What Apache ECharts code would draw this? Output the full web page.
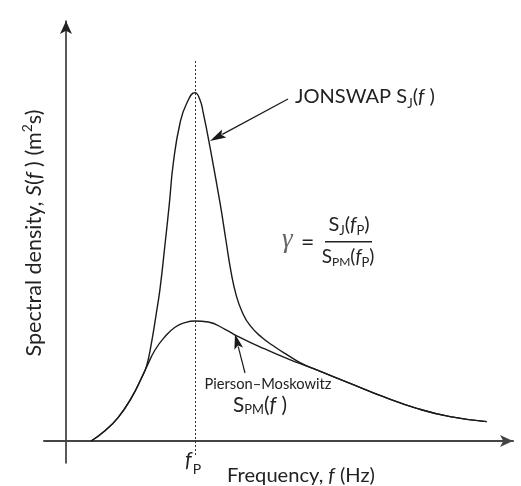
<!DOCTYPE html>
<html><head><meta charset="utf-8">
<script src="https://cdn.jsdelivr.net/npm/echarts@6/dist/echarts.min.js"></script>
<style>html,body{margin:0;padding:0;background:#fff}#c{width:521px;height:486px}</style>
</head><body><div id="c"></div>
<script>
// Frequency in units of f/fp, spectral density normalised by S_PM(fp)
const fp = 1.0;
const pmF = [0.195, 0.302, 0.405, 0.509, 0.587, 0.626, 0.69, 0.767, 0.845, 0.922, 1.0, 1.103, 1.233, 1.336, 1.491, 1.646, 1.801, 1.943, 2.202, 2.46, 2.719, 2.977, 3.261];
const pmS = [0, 0.085, 0.195, 0.36, 0.525, 0.615, 0.752, 0.862, 0.94, 0.978, 0.992, 0.983, 0.923, 0.862, 0.785, 0.711, 0.645, 0.587, 0.477, 0.366, 0.27, 0.201, 0.16];
const jsF = [0.195, 0.302, 0.405, 0.509, 0.587, 0.626, 0.664, 0.698, 0.729, 0.767, 0.801, 0.832, 0.884, 0.936, 1.0, 1.039, 1.064, 1.116, 1.194, 1.24, 1.279, 1.318, 1.364, 1.426, 1.519, 1.62, 1.721, 1.814, 1.943, 2.202, 2.46, 2.719, 2.977, 3.261];
const jsS = [0, 0.085, 0.195, 0.36, 0.525, 0.625, 0.82, 1.041, 1.26, 1.62, 1.96, 2.298, 2.628, 2.791, 2.879, 2.818, 2.711, 2.43, 1.967, 1.657, 1.4, 1.21, 1.07, 0.955, 0.855, 0.777, 0.708, 0.648, 0.587, 0.477, 0.366, 0.27, 0.201, 0.16];
const dashExtent = [-0.116, 3.149];

const FONT = 'Lato, "Open Sans", sans-serif';
const TXT = '#222';
const ctx = document.createElement('canvas').getContext('2d');
function fontStr(p, k){ return (p.it ? 'italic ' : '') + (p.s * k).toFixed(2) + 'px ' + (p.fam || FONT); }
function run(x, base, parts, anchor, color, targetW){
  const widths = k => parts.map(p => { ctx.font = fontStr(p, k); return ctx.measureText(p.t).width + (p.gap || 0) * k; });
  let k = 1;
  if (targetW) { const t0 = widths(1).reduce((a, b) => a + b, 0); k = targetW / t0; }
  const ws = widths(k);
  const total = ws.reduce((a, b) => a + b, 0);
  let cx = anchor === 'center' ? x - total / 2 : x;
  const els = [];
  parts.forEach((p, i) => {
    ctx.font = fontStr(p, k);
    ctx.textBaseline = 'middle';
    const d = ctx.measureText('H').actualBoundingBoxDescent;
    ctx.textBaseline = 'alphabetic';
    els.push({type: 'text', x: cx, y: base + (p.dy || 0) * k - d, silent: true,
      style: {text: p.t, font: fontStr(p, k), fill: p.c || color || TXT, align: 'left', verticalAlign: 'middle'}});
    cx += ws[i];
  });
  return els;
}
function arrow(x1, y1, x2, y2, len, hw, color){
  const dx = x2 - x1, dy = y2 - y1, L = Math.hypot(dx, dy);
  const ux = dx / L, uy = dy / L, bx = x2 - ux * len, by = y2 - uy * len;
  return [
    {type: 'line', silent: true, shape: {x1: x1, y1: y1, x2: bx + ux * 2, y2: by + uy * 2}, style: {stroke: color, lineWidth: 1.2}},
    {type: 'polygon', silent: true, shape: {points: [[x2, y2], [bx - uy * hw, by + ux * hw], [bx + ux * 3, by + uy * 3], [bx + uy * hw, by - ux * hw]]}, style: {fill: color}}
  ];
}

const graphics = [];
// y axis title (rotated)
graphics.push({type: 'group', x: 41, y: 233, rotation: Math.PI / 2, children: run(0, 0, [
  {t: 'Spectral density, ', s: 17}, {t: 'S', s: 17, it: true}, {t: '(', s: 17}, {t: 'f', s: 17, it: true},
  {t: ' ) (m', s: 17}, {t: '2', s: 11, dy: -7}, {t: 's)', s: 17}
], 'center', null, 247)});
// x axis title
graphics.push(...run(301, 482, [{t: 'Frequency, ', s: 18}, {t: 'f', s: 18, it: true}, {t: ' (Hz)', s: 18}], 'center', null, 148));
// fp tick label
graphics.push(...run(185, 467, [{t: 'f', s: 21, it: true, gap: 1}, {t: 'P', s: 14, dy: 7}], 'left'));
// JONSWAP label
graphics.push(...run(295, 103, [{t: 'JONSWAP S', s: 20}, {t: 'J', s: 13, dy: 5}, {t: '(', s: 20}, {t: 'f', s: 20, it: true}, {t: ' )', s: 20}], 'left', null, 140));
// PM label
graphics.push(...run(268, 389, [{t: 'Pierson–Moskowitz', s: 14}], 'center', null, 127));
graphics.push(...run(233, 412, [{t: 'S', s: 21}, {t: 'PM', s: 13, dy: 2}, {t: '(', s: 21}, {t: 'f', s: 21, it: true}, {t: ' )', s: 21}], 'left', null, 54));
// formula
graphics.push(...run(282, 247, [{t: 'γ', s: 27, it: true, fam: '"Liberation Serif", "DejaVu Serif", serif', c: '#666'}], 'left'));
graphics.push(...run(301, 250, [{t: '=', s: 23}], 'left'));
graphics.push(...run(349, 231, [{t: 'S', s: 20}, {t: 'J', s: 13, dy: 4}, {t: '(', s: 20}, {t: 'f', s: 20, it: true}, {t: 'P', s: 13, dy: 4}, {t: ')', s: 20}], 'center'));
graphics.push(...run(348, 263, [{t: 'S', s: 19}, {t: 'PM', s: 12, dy: 3}, {t: '(', s: 19}, {t: 'f', s: 19, it: true}, {t: 'P', s: 13, dy: 4}, {t: ')', s: 19}], 'center'));
graphics.push({type: 'line', silent: true, shape: {x1: 325, y1: 241.7, x2: 372, y2: 241.7}, style: {stroke: TXT, lineWidth: 1.4}});
// annotation arrows
graphics.push(...arrow(288, 99, 210, 141, 16, 4.5, '#1a1a1a'));
graphics.push(...arrow(245, 373, 235, 334, 15, 4.5, '#1a1a1a'));

const chart = echarts.init(document.getElementById('c'), null, {renderer: 'canvas'});
chart.setOption({
  animation: false,
  backgroundColor: '#fff',
  grid: {left: 44, right: 8, top: 21, bottom: 23, containLabel: false, outerBoundsMode: 'none'},
  xAxis: {type: 'value', min: -0.1705, max: 3.465,
    axisLine: {onZero: true, symbol: ['none', 'arrow'], symbolSize: [9, 13], lineStyle: {color: '#444', width: 2}},
    axisTick: {show: false}, axisLabel: {show: false}, splitLine: {show: false}},
  yAxis: {type: 'value', min: -0.1818, max: 3.471,
    axisLine: {onZero: true, symbol: ['none', 'arrow'], symbolSize: [9, 13], lineStyle: {color: '#222', width: 1.5}},
    axisTick: {show: false}, axisLabel: {show: false}, splitLine: {show: false}},
  series: [
    {type: 'line', name: 'Pierson–Moskowitz', data: pmF.map((f, i) => [f, pmS[i]]), smooth: 0.5, symbol: 'none',
      lineStyle: {color: '#1a1a1a', width: 1.4}, silent: true,
      markLine: {silent: true, symbol: ['none', 'none'], label: {show: false}, emphasis: {disabled: true},
        lineStyle: {type: [2, 2], color: '#333', width: 1},
        data: [[{coord: [fp, dashExtent[0]]}, {coord: [fp, dashExtent[1]]}]]}},
    {type: 'line', name: 'JONSWAP', data: jsF.map((f, i) => [f, jsS[i]]), smooth: 0.5, symbol: 'none',
      lineStyle: {color: '#1a1a1a', width: 1.4}, silent: true}
  ],
  graphic: graphics
});
</script></body></html>
